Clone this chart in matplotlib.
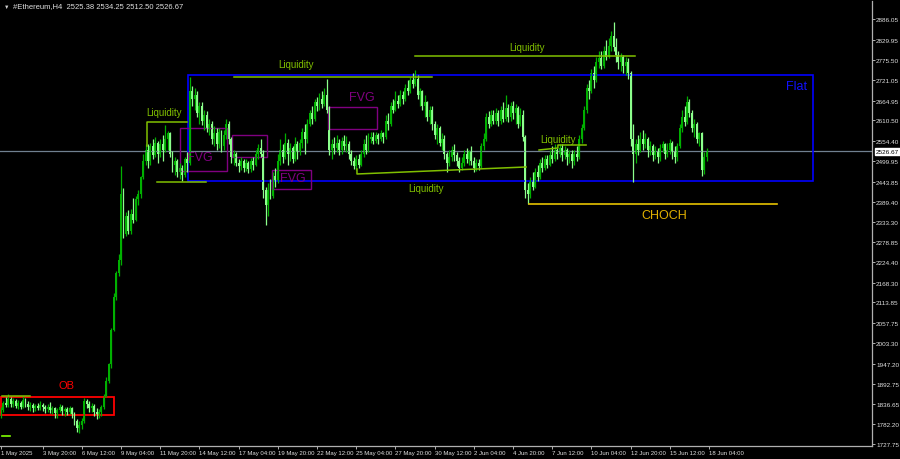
import matplotlib.pyplot as plt
import numpy as np

plt.rcParams['font.family'] = ['Liberation Sans', 'DejaVu Sans']

# ETH H4 bars from 1 May 2025 00:00, one bar every 4 hours
first_open = 1812
close = [1820, 1840, 1835, 1850, 1838, 1845, 1832, 1840, 1830, 1848,
         1838, 1830, 1835, 1825, 1832, 1826, 1835, 1828, 1822, 1830,
         1820, 1825, 1812, 1820, 1830, 1818, 1822, 1815, 1825, 1810,
         1790, 1772, 1780, 1790, 1845, 1838, 1825, 1832, 1815, 1808,
         1815, 1828, 1860, 1900, 1945, 2040, 2130, 2195, 2230, 2410,
         2300, 2350, 2310, 2355, 2340, 2395, 2410, 2455, 2500, 2530,
         2500, 2540, 2515, 2550, 2520, 2545, 2530, 2560, 2575, 2520,
         2490, 2500, 2470, 2480, 2462, 2505, 2495, 2690, 2670, 2680,
         2630, 2650, 2610, 2625, 2590, 2600, 2560, 2575, 2545, 2580,
         2540, 2570, 2600, 2560, 2510, 2520, 2495, 2485, 2500, 2480,
         2495, 2478, 2500, 2490, 2520, 2535, 2520, 2420, 2380, 2420,
         2405, 2460, 2445, 2500, 2530, 2510, 2550, 2520, 2535, 2505,
         2545, 2525, 2550, 2580, 2560, 2600, 2630, 2615, 2660, 2650,
         2670, 2655, 2680, 2640, 2530, 2545, 2535, 2550, 2530, 2555,
         2540, 2545, 2520, 2500, 2485, 2505, 2490, 2520, 2545, 2530,
         2560, 2565, 2555, 2570, 2560, 2575, 2565, 2610, 2600, 2650,
         2640, 2665, 2655, 2680, 2670, 2700, 2690, 2720, 2710, 2725,
         2680, 2690, 2650, 2660, 2620, 2640, 2600, 2570, 2590, 2550,
         2560, 2520, 2495, 2510, 2530, 2515, 2500, 2480, 2495, 2520,
         2505, 2525, 2500, 2480, 2495, 2485, 2540, 2560, 2620, 2600,
         2625, 2610, 2630, 2610, 2640, 2615, 2645, 2620, 2650, 2630,
         2645, 2600, 2625, 2565, 2420, 2410, 2445, 2430, 2470, 2455,
         2495, 2480, 2505, 2490, 2515, 2505, 2530, 2520, 2535, 2515,
         2530, 2510, 2520, 2500, 2520, 2510, 2560, 2590, 2640, 2700,
         2690, 2740, 2720, 2770, 2780, 2760, 2800, 2785, 2815, 2840,
         2810, 2790, 2770, 2785, 2760, 2770, 2740, 2560, 2520, 2545,
         2530, 2560, 2545, 2560, 2530, 2540, 2515, 2525, 2510, 2535,
         2545, 2520, 2530, 2550, 2525, 2510, 2540, 2590, 2620, 2605,
         2660, 2630, 2590, 2600, 2560, 2575, 2475, 2510, 2526.67]
high = [1830, 1845, 1855, 1864, 1855, 1852, 1850, 1848, 1845, 1858,
        1852, 1845, 1842, 1840, 1838, 1840, 1845, 1840, 1834, 1838,
        1842, 1832, 1830, 1826, 1838, 1835, 1830, 1828, 1832, 1828,
        1815, 1795, 1790, 1800, 1852, 1850, 1845, 1840, 1838, 1825,
        1822, 1835, 1865, 1910, 1950, 2045, 2140, 2200, 2245, 2485,
        2425, 2360, 2365, 2370, 2400, 2405, 2420, 2460, 2520, 2545,
        2545, 2550, 2560, 2565, 2555, 2560, 2570, 2597, 2582, 2580,
        2528, 2510, 2505, 2495, 2490, 2512, 2525, 2730, 2705, 2700,
        2690, 2662, 2660, 2640, 2635, 2615, 2610, 2595, 2590, 2590,
        2585, 2585, 2615, 2610, 2565, 2530, 2525, 2505, 2510, 2505,
        2505, 2500, 2508, 2510, 2530, 2545, 2560, 2530, 2430, 2440,
        2450, 2470, 2480, 2520, 2560, 2545, 2575, 2560, 2548, 2540,
        2565, 2555, 2560, 2590, 2600, 2615, 2640, 2650, 2668, 2675,
        2685, 2690, 2700, 2725, 2650, 2560, 2565, 2570, 2560, 2565,
        2570, 2568, 2555, 2530, 2510, 2515, 2520, 2530, 2560, 2570,
        2575, 2580, 2578, 2580, 2575, 2585, 2580, 2625, 2630, 2660,
        2670, 2690, 2680, 2695, 2690, 2710, 2720, 2730, 2740, 2748,
        2735, 2700, 2695, 2680, 2665, 2650, 2650, 2610, 2600, 2595,
        2575, 2570, 2525, 2530, 2540, 2545, 2525, 2510, 2510, 2530,
        2535, 2530, 2540, 2510, 2505, 2505, 2550, 2575, 2630, 2635,
        2640, 2640, 2645, 2638, 2650, 2660, 2680, 2655, 2660, 2665,
        2655, 2650, 2645, 2640, 2570, 2440, 2455, 2470, 2480, 2490,
        2505, 2510, 2515, 2515, 2530, 2540, 2545, 2535, 2545, 2545,
        2540, 2535, 2530, 2530, 2530, 2540, 2570, 2600, 2650, 2710,
        2720, 2750, 2760, 2785, 2800, 2800, 2815, 2830, 2835, 2855,
        2878, 2835, 2800, 2795, 2790, 2785, 2780, 2745, 2600, 2560,
        2570, 2580, 2585, 2575, 2565, 2555, 2545, 2540, 2535, 2545,
        2555, 2550, 2550, 2560, 2555, 2540, 2550, 2600, 2640, 2650,
        2678, 2670, 2640, 2615, 2605, 2580, 2580, 2525, 2534.25]
low = [1800, 1815, 1828, 1830, 1830, 1828, 1825, 1824, 1822, 1826,
       1830, 1820, 1818, 1815, 1818, 1820, 1820, 1818, 1812, 1815,
       1812, 1810, 1800, 1798, 1815, 1808, 1805, 1806, 1810, 1800,
       1780, 1760, 1758, 1768, 1785, 1825, 1815, 1815, 1805, 1796,
       1798, 1805, 1822, 1855, 1895, 1935, 2035, 2120, 2185, 2215,
       2290, 2295, 2300, 2300, 2330, 2335, 2380, 2400, 2450, 2490,
       2480, 2490, 2505, 2510, 2495, 2510, 2500, 2525, 2530, 2510,
       2470, 2462, 2455, 2450, 2445, 2455, 2470, 2490, 2650, 2640,
       2620, 2600, 2598, 2585, 2580, 2570, 2545, 2540, 2530, 2535,
       2525, 2530, 2560, 2545, 2495, 2490, 2485, 2470, 2475, 2470,
       2472, 2468, 2470, 2475, 2485, 2505, 2510, 2400, 2325, 2350,
       2395, 2400, 2430, 2440, 2490, 2495, 2505, 2490, 2500, 2495,
       2500, 2505, 2515, 2535, 2520, 2550, 2595, 2600, 2610, 2635,
       2640, 2645, 2650, 2630, 2515, 2505, 2520, 2525, 2515, 2520,
       2530, 2525, 2505, 2490, 2478, 2475, 2480, 2485, 2510, 2520,
       2525, 2550, 2545, 2550, 2545, 2555, 2550, 2560, 2585, 2595,
       2630, 2635, 2645, 2650, 2655, 2665, 2680, 2685, 2700, 2705,
       2670, 2650, 2640, 2620, 2610, 2600, 2585, 2560, 2545, 2540,
       2530, 2505, 2470, 2485, 2500, 2500, 2485, 2470, 2475, 2485,
       2495, 2490, 2490, 2470, 2472, 2475, 2480, 2530, 2555, 2590,
       2595, 2600, 2600, 2595, 2600, 2605, 2610, 2605, 2610, 2615,
       2600, 2590, 2595, 2555, 2400, 2383, 2400, 2420, 2425, 2445,
       2450, 2470, 2475, 2480, 2485, 2495, 2500, 2505, 2510, 2500,
       2505, 2490, 2495, 2480, 2490, 2500, 2505, 2550, 2585, 2630,
       2670, 2685, 2700, 2715, 2755, 2750, 2755, 2775, 2780, 2800,
       2800, 2770, 2750, 2745, 2740, 2735, 2725, 2540, 2443, 2495,
       2515, 2525, 2530, 2535, 2510, 2515, 2500, 2505, 2495, 2500,
       2525, 2505, 2510, 2520, 2505, 2495, 2500, 2535, 2580, 2595,
       2600, 2620, 2580, 2565, 2550, 2540, 2458, 2465, 2500]

price_ticks = [2886.05, 2829.95, 2775.50, 2721.05, 2664.95, 2610.50,
               2554.40, 2499.95, 2443.85, 2389.40, 2333.30, 2278.85,
               2224.40, 2168.30, 2113.85, 2057.75, 2003.30, 1947.20,
               1892.75, 1836.65, 1782.20, 1727.75]
date_ticks = [0, 17, 33, 49, 65, 81, 97, 113, 129, 145, 161, 177,
              193, 209, 225, 241, 257, 273, 289]
date_labels = ['1 May 2025', '3 May 20:00', '6 May 12:00', '9 May 04:00',
               '11 May 20:00', '14 May 12:00', '17 May 04:00', '19 May 20:00',
               '22 May 12:00', '25 May 04:00', '27 May 20:00', '30 May 12:00',
               '2 Jun 04:00', '4 Jun 20:00', '7 Jun 12:00', '10 Jun 04:00',
               '12 Jun 20:00', '15 Jun 12:00', '18 Jun 04:00']
header = '#Ethereum,H4  2525.38 2534.25 2512.50 2526.67'
last_price = 2526.67

# zones: (bar from, bar to, price low, price high)
ob_zone = (0, 46.3, 1807, 1856)
flat_zone = (76.3, 331.4, 2445.4, 2735.4)
fvg_zones = [(73.1, 92.2, 2473, 2590), (94.3, 108.6, 2511, 2571),
             (133.5, 153.5, 2587, 2647), (110.6, 126.5, 2424, 2475)]
fvg_labels = [(81.2, 2511), (147.3, 2675), (119.2, 2454)]
# liquidity lines as (bars, prices)
liq_lines = [([59.6, 59.6, 75.9], [2541, 2606.4, 2606.4]),
             ([63.7, 83.7], [2442.7, 2442.7]),
             ([95.1, 175.9], [2730, 2730]),
             ([169, 258.8], [2787, 2787]),
             ([145.3, 145.3, 214.3], [2478, 2464.5, 2483.6]),
             ([219.6, 227.3, 227.3, 238.8], [2530, 2535.4, 2543.6, 2543.6]),
             ([0.4, 11.8], [1858.7, 1858.7])]
liq_labels = [(66.5, 2634), (120.4, 2764), (214.7, 2811), (173.5, 2426), (227.3, 2560)]
choch_line = (215.5, 316.7, 2382.6)

BG = 'black'
BULL = '#00b000'
BEAR = '#8cff8c'
LIQ = '#80c000'
YMIN, YMAX = 1723.66, 2936.5

fig = plt.figure(figsize=(9, 4.6), dpi=100, facecolor=BG)
ax = fig.add_axes([0, 13.5 / 460, 872 / 900, 444.5 / 460])
ax.set_facecolor(BG)

c = np.array(close)
o = np.array([first_open] + close[:-1])
h = np.maximum(np.array(high), np.maximum(o, c))
l = np.minimum(np.array(low), np.minimum(o, c))
x = np.arange(len(c))
up = c >= o
for mask, col in ((up, BULL), (~up, BEAR)):
    ax.vlines(x[mask], l[mask], h[mask], color=col, lw=0.9)
    body = np.maximum(np.abs(c[mask] - o[mask]), 2.5)
    ax.bar(x[mask], body, bottom=np.minimum(o[mask], c[mask]), width=0.8,
           color=col, lw=0)

# current price line
ax.axhline(last_price, color='#708090', lw=0.9, zorder=1)

# order block
x0, x1, y0, y1 = ob_zone
ax.add_patch(plt.Rectangle((x0, y0), x1 - x0, y1 - y0, fill=False, ec='#ff0000', lw=1.3))
ax.text(26.9, 1889, 'OB', color='#ff0000', fontsize=8, ha='center', va='center')
ax.plot([0.4, 3.7], [1749.6, 1749.6], color='#80ff00', lw=1.2)

# flat range
x0, x1, y0, y1 = flat_zone
ax.add_patch(plt.Rectangle((x0, y0), x1 - x0, y1 - y0, fill=False, ec='#0000ff', lw=1.2))
ax.text(324.9, 2705, 'Flat', color='#1010ff', fontsize=9, ha='center', va='center')

# fair value gaps
for x0, x1, y0, y1 in fvg_zones:
    ax.add_patch(plt.Rectangle((x0, y0), x1 - x0, y1 - y0, fill=False, ec='#800080', lw=1.0))
for tx, ty in fvg_labels:
    ax.text(tx, ty, 'FVG', color='#800080', fontsize=9, ha='center', va='center')

# liquidity
for xs, ys in liq_lines:
    ax.plot(xs, ys, color=LIQ, lw=1.1, zorder=4)
for tx, ty in liq_labels:
    ax.text(tx, ty, 'Liquidity', color=LIQ, fontsize=7, ha='center', va='center')

# change of character
ax.plot(choch_line[:2], [choch_line[2]] * 2, color='#e6c200', lw=1.2)
ax.text(270.6, 2353, 'CHOCH', color='#e0b000', fontsize=9, ha='center', va='center')

ax.set_xlim(-0.4, 355.5)
ax.set_ylim(YMIN, YMAX)

for s in ('left', 'top'):
    ax.spines[s].set_visible(False)
for s in ('right', 'bottom'):
    ax.spines[s].set_color('#b0b0b0')
    ax.spines[s].set_linewidth(0.9)

ax.yaxis.tick_right()
ax.set_yticks(price_ticks)
ax.set_yticklabels([f'{v:.2f}' for v in price_ticks])
ax.set_xticks(date_ticks)
ax.set_xticklabels(date_labels, ha='left')
ax.tick_params(colors='#b0b0b0', labelcolor='#e0e0e0', length=2, width=0.7, pad=1)
ax.tick_params(axis='x', labelsize=4.3)
ax.tick_params(axis='y', labelsize=4.6)

ax.text(1.004, (last_price - YMIN) / (YMAX - YMIN), f'{last_price:.2f}',
        transform=ax.transAxes, fontsize=4.6, color='black', va='center', ha='left',
        bbox=dict(boxstyle='square,pad=0.15', fc='white', ec='white'))

fig.text(4 / 900, 1 - 7 / 460, '▼', color='#d0d0d0', fontsize=4, va='center')
fig.text(13 / 900, 1 - 7 / 460, header, color='#e0e0e0', fontsize=5.5, va='center')

fig.savefig('out.png', dpi=100, facecolor=BG)
